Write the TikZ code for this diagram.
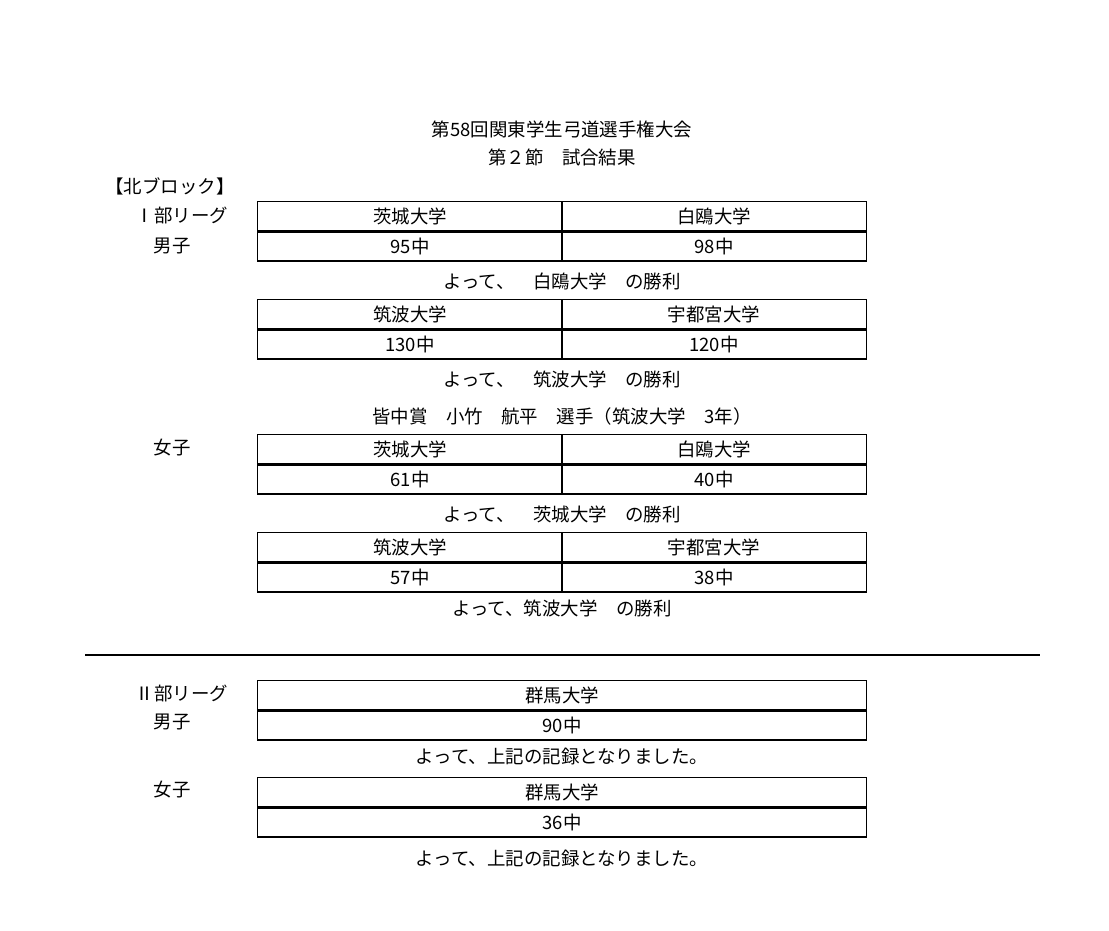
\documentclass[tikz,border=0pt]{standalone}
\usepackage{fontspec}
\setmainfont{Noto Sans CJK JP}
\usetikzlibrary{positioning}
\begin{document}
\begin{tikzpicture}[x=0.02cm,y=-0.02cm,
  every node/.style={font=\fontsize{10.5}{12}\selectfont, inner sep=0pt},
  cell/.style={draw, line width=0.9pt, minimum width=6.1cm, minimum height=0.58cm},
  wide/.style={draw, line width=0.9pt, minimum width=12.18cm, minimum height=0.58cm}]
\useasboundingbox (0,0) rectangle (1109,930);
% title
\node (t1) at (562,129) {第58回関東学生弓道選手権大会};
\node (t2) at (562,157) {第２節　試合結果};
% left labels
\node (blk) at (170,186) {【北ブロック】};
\node (lg1) at (182,215) {Ⅰ部リーグ};
\node (m1) at (172,246) {男子};
\node (w1) at (172,448) {女子};
\node (lg2) at (182,693) {Ⅱ部リーグ};
\node (m2) at (172,722) {男子};
\node (w2) at (172,790) {女子};
% north block, division one
\foreach \n/\y/\a/\b/\sa/\sb in {g1/216/茨城大学/白鴎大学/95中/98中,
  g2/314/筑波大学/宇都宮大学/130中/120中,
  g3/449/茨城大学/白鴎大学/61中/40中,
  g4/547/筑波大学/宇都宮大学/57中/38中}{
  \node[cell] (\n a) at (410,\y) {\a};
  \node[cell] (\n b) at (714,\y) {\b};
  \node[cell, below=0pt of \n a] (\n sa) {\sa};
  \node[cell, below=0pt of \n b] (\n sb) {\sb};
}
\node (r1) at (562,281) {よって、　白鴎大学　の勝利};
\node (r2) at (562,379) {よって、　筑波大学　の勝利};
\node (aw) at (562,416) {皆中賞　小竹　航平　選手（筑波大学　3年）};
\node (r3) at (562,514) {よって、　茨城大学　の勝利};
\node (r4) at (562,608) {よって、筑波大学　の勝利};
% separator
\coordinate (sl) at (85,655);
\coordinate (sr) at (1040,655);
\draw[line width=1pt] (sl) -- (sr);
% division two
\foreach \n/\y/\s in {h1/695/90中, h2/792/36中}{
  \node[wide] (\n) at (562,\y) {群馬大学};
  \node[wide, below=0pt of \n] (\n s) {\s};
}
\node (r5) at (562,756) {よって、上記の記録となりました。};
\node (r6) at (562,858) {よって、上記の記録となりました。};
\end{tikzpicture}
\end{document}
